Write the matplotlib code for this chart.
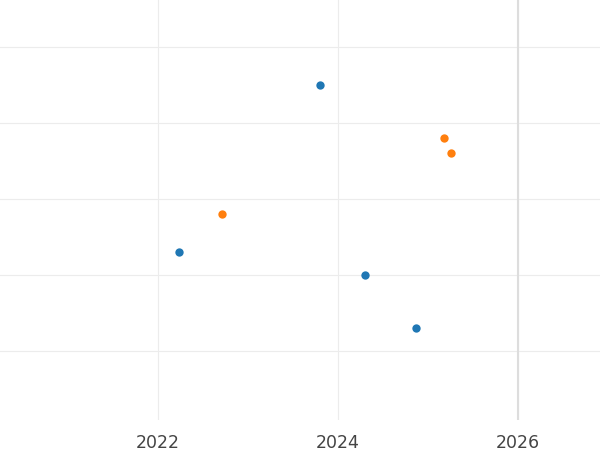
import matplotlib
matplotlib.use("Agg")
import matplotlib.pyplot as plt

blue_x = [2023.80, 2022.23, 2024.30, 2024.87]
blue_y = [4.50, 2.30, 2.00, 1.30]
orange_x = [2022.71, 2025.18, 2025.26]
orange_y = [2.80, 3.80, 3.60]
x_ticks = [2022, 2024, 2026]
y_grid = [1, 2, 3, 4, 5]

fig = plt.figure(figsize=(6, 4.5), dpi=100)
ax = fig.add_axes([0, 0.0667, 1, 0.9333])

ax.scatter(blue_x, blue_y, color="#1f77b4", s=36, zorder=3, linewidths=0)
ax.scatter(orange_x, orange_y, color="#ff7f0e", s=36, zorder=3, linewidths=0)
ax.axvline(2026, color="#dddddd", lw=1.5, zorder=1)

ax.set_xlim(2020.244, 2026.91)
ax.set_ylim(0.092, 5.618)
ax.set_xticks(x_ticks)
ax.set_xticklabels([str(t) for t in x_ticks])
ax.set_yticks(y_grid)
ax.set_yticklabels([])
ax.grid(True, color="#ececec", lw=0.8)
ax.set_axisbelow(True)
ax.tick_params(length=0, labelsize=12.5, colors="#444444", pad=10)
for s in ax.spines.values():
    s.set_visible(False)

fig.savefig("out.png", dpi=100)
